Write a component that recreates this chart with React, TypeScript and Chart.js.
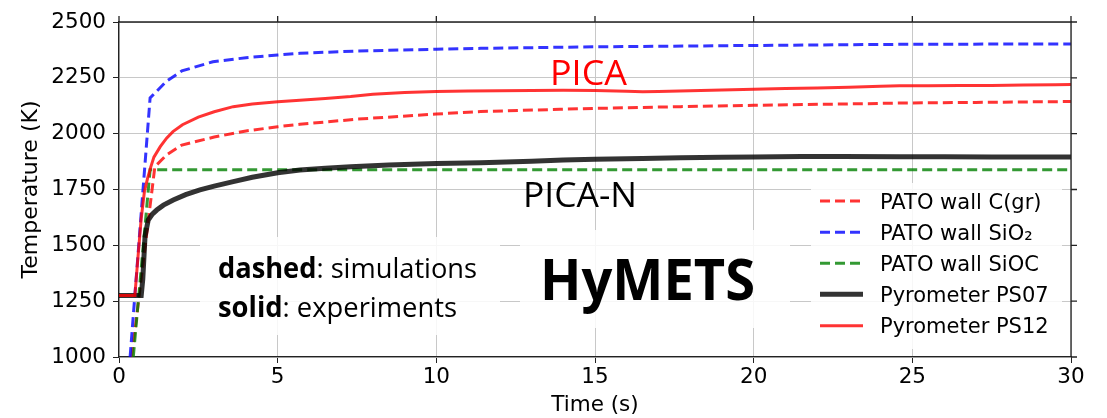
import React, { useEffect, useRef } from 'react';
import { Chart, registerables } from 'chart.js';

Chart.register(...registerables);

// ---------- data ----------
const xTicks = [0, 5, 10, 15, 20, 25, 30];
const yTicks = [1000, 1250, 1500, 1750, 2000, 2250, 2500];

const tSimC = [0.4, 1.13, 1.5, 1.98, 3.0, 4.0, 5.0, 5.7, 7.5, 10.0, 11.4, 13.9, 15.0, 17.7, 20.0, 23.4, 24.6, 27.0, 30.0];
const vSimC = [1000, 1852, 1905, 1949, 1985, 2012, 2031, 2042, 2065, 2088, 2099, 2109, 2113, 2121, 2127, 2134, 2137, 2140, 2144];

const tSimSiO2 = [0.35, 0.98, 1.5, 1.98, 2.96, 4.0, 5.0, 5.7, 7.5, 10.0, 11.4, 15.0, 20.0, 24.6, 30.0];
const vSimSiO2 = [1000, 2160, 2235, 2281, 2322, 2340, 2352, 2360, 2370, 2378, 2382, 2389, 2395, 2400, 2402];

const tSimSiOC = [0.45, 0.98, 5.0, 10.0, 15.0, 20.0, 25.0, 30.0];
const vSimSiOC = [1000, 1838, 1838, 1838, 1838, 1838, 1838, 1838];

const tPS07 = [0, 0.7, 0.75, 0.82, 0.92, 1.05, 1.19, 1.4, 1.71, 2.1, 2.55, 3.0, 3.6, 4.2, 5.0, 5.7, 6.5, 7.3, 8.5, 10.0, 11.4, 13.0, 14.0, 15.0, 16.5, 17.7, 19.0, 20.0, 21.5, 22.8, 24.6, 26.0, 27.5, 29.0, 30.0];
const vPS07 = [1275, 1275, 1350, 1539, 1613, 1640, 1658, 1680, 1703, 1727, 1748, 1765, 1785, 1805, 1825, 1837, 1845, 1852, 1860, 1866, 1870, 1877, 1882, 1885, 1889, 1892, 1894, 1896, 1898, 1898, 1897, 1897, 1896, 1895, 1895];

const tPS12 = [0, 0.5, 0.6, 0.7, 0.8, 0.9, 1.0, 1.1, 1.3, 1.5, 1.7, 2.0, 2.5, 3.0, 3.6, 4.2, 5.0, 5.7, 6.5, 7.3, 8.0, 9.0, 10.0, 11.0, 12.0, 13.0, 14.0, 15.0, 16.0, 16.5, 17.0, 18.0, 19.0, 20.0, 21.0, 22.0, 23.0, 23.5, 24.0, 24.6, 25.5, 26.5, 27.5, 28.5, 29.5, 30.0];
const vPS12 = [1275, 1275, 1450, 1620, 1740, 1800, 1850, 1895, 1942, 1980, 2009, 2040, 2074, 2098, 2121, 2133, 2143, 2150, 2158, 2166, 2176, 2184, 2189, 2191, 2192, 2193, 2194, 2193, 2190, 2188, 2189, 2192, 2196, 2199, 2202, 2205, 2208, 2210, 2212, 2214, 2215, 2216, 2216, 2218, 2219, 2220];

const seriesLabels = ['PATO wall C(gr)', 'PATO wall SiO₂', 'PATO wall SiOC', 'Pyrometer PS07', 'Pyrometer PS12'];
const seriesColors = ['rgba(255,0,0,0.8)', 'rgba(0,0,255,0.8)', 'rgba(0,128,0,0.8)', 'rgba(0,0,0,0.8)', 'rgba(255,0,0,0.8)'];
const seriesWidths = [3, 3, 3, 5, 3];
const seriesDashed = [true, true, true, false, false];

const toPts = (t: number[], v: number[]) => t.map((x, i) => ({ x, y: v[i] }));

const DASH = [10, 5];
const TEXT_FONT = '"Open Sans", "Noto Sans", sans-serif';

function drawFit(
  ctx: CanvasRenderingContext2D,
  segs: { text: string; bold: boolean }[],
  x: number,
  baseline: number,
  size: number,
  targetWidth: number,
  color: string
) {
  ctx.save();
  ctx.fillStyle = color;
  ctx.textBaseline = 'alphabetic';
  ctx.textAlign = 'left';
  let total = 0;
  const widths = segs.map((s) => {
    ctx.font = `${s.bold ? 'bold ' : ''}${size}px ${TEXT_FONT}`;
    const w = ctx.measureText(s.text).width;
    total += w;
    return w;
  });
  const sx = targetWidth / total;
  ctx.translate(x, baseline);
  ctx.scale(sx, 1);
  let cx = 0;
  segs.forEach((s, i) => {
    ctx.font = `${s.bold ? 'bold ' : ''}${size}px ${TEXT_FONT}`;
    ctx.fillText(s.text, cx, 0);
    cx += widths[i];
  });
  ctx.restore();
}

const overlay = {
  id: 'overlay',
  beforeDatasetsDraw(chart: any) {
    const ctx = chart.ctx as CanvasRenderingContext2D;
    ctx.save();
    ctx.fillStyle = 'rgba(255,255,255,0.85)';
    ctx.fillRect(200, 237, 300, 98);
    ctx.fillRect(520, 230, 270, 98);
    ctx.restore();
  },
  afterDatasetsDraw(chart: any) {
    const ctx = chart.ctx as CanvasRenderingContext2D;
    const { left, right, top, bottom } = chart.chartArea;
    const xs = chart.scales.x;
    const ys = chart.scales.y;
    ctx.save();
    // top/right spines and mirrored ticks
    ctx.strokeStyle = '#222';
    ctx.lineWidth = 1.3;
    ctx.beginPath();
    ctx.moveTo(left, top);
    ctx.lineTo(right, top);
    ctx.lineTo(right, bottom);
    ctx.stroke();
    ctx.beginPath();
    xTicks.forEach((v) => {
      const px = xs.getPixelForValue(v);
      ctx.moveTo(px, top);
      ctx.lineTo(px, top - 6);
    });
    yTicks.forEach((v) => {
      const py = ys.getPixelForValue(v);
      ctx.moveTo(right, py);
      ctx.lineTo(right + 6, py);
    });
    ctx.stroke();

    // annotations
    drawFit(ctx, [{ text: 'PICA', bold: false }], 550, 85, 35, 77, '#ff0000');
    drawFit(ctx, [{ text: 'PICA-N', bold: false }], 523, 207, 35, 114, '#000');
    drawFit(ctx, [{ text: 'dashed', bold: true }, { text: ': simulations', bold: false }], 218, 278, 28, 259, '#000');
    drawFit(ctx, [{ text: 'solid', bold: true }, { text: ': experiments', bold: false }], 218, 317, 28, 239, '#000');
    drawFit(ctx, [{ text: 'HyMETS', bold: true }], 540, 300, 58, 215, '#000');

    // legend
    ctx.fillStyle = 'rgba(255,255,255,0.85)';
    ctx.fillRect(811, 183, 251, 166);
    const rows = [201, 232.3, 263.3, 294.3, 325.7];
    ctx.font = '21px "DejaVu Sans"';
    ctx.textBaseline = 'alphabetic';
    seriesLabels.forEach((lab, i) => {
      const y = rows[i];
      ctx.beginPath();
      ctx.strokeStyle = seriesColors[i];
      ctx.lineWidth = seriesWidths[i];
      ctx.setLineDash(seriesDashed[i] ? DASH : []);
      ctx.moveTo(820, y);
      ctx.lineTo(863, y);
      ctx.stroke();
      ctx.setLineDash([]);
      ctx.fillStyle = '#000';
      ctx.fillText(lab, 880, y + 7.5);
    });
    ctx.restore();
  },
};

export default function App() {
  const ref = useRef<HTMLCanvasElement | null>(null);
  useEffect(() => {
    if (!ref.current) return;
    const mk = (t: number[], v: number[], i: number, order: number) => ({
      label: seriesLabels[i],
      data: toPts(t, v),
      borderColor: seriesColors[i],
      backgroundColor: seriesColors[i],
      borderWidth: seriesWidths[i],
      borderDash: seriesDashed[i] ? DASH : [],
      pointRadius: 0,
      tension: 0,
      fill: false,
      order,
    });
    const chart = new Chart(ref.current, {
      type: 'line',
      data: {
        datasets: [
          mk(tSimC, vSimC, 0, 4),
          mk(tSimSiO2, vSimSiO2, 1, 3),
          mk(tSimSiOC, vSimSiOC, 2, 2),
          mk(tPS07, vPS07, 3, 1),
          mk(tPS12, vPS12, 4, 0),
        ] as any,
      },
      options: {
        animation: false,
        responsive: false,
        maintainAspectRatio: false,
        devicePixelRatio: 1,
        layout: { padding: { top: 22, right: 36, left: 0, bottom: 0 } },
        plugins: { legend: { display: false }, tooltip: { enabled: false } },
        scales: {
          x: {
            type: 'linear',
            min: 0,
            max: 30,
            afterFit: (s: any) => { s.height = 61; },
            afterBuildTicks: (s: any) => { s.ticks = xTicks.map((v) => ({ value: v })); },
            ticks: {
              callback: (v: any) => String(v),
              color: '#000',
              font: { family: '"DejaVu Sans"', size: 21.5 },
              padding: 2,
              maxRotation: 0,
            },
            grid: { color: '#c8c8c8', lineWidth: 1, tickColor: '#222', tickLength: 6 },
            border: { color: '#222', width: 1.3 },
            title: {
              display: true,
              text: 'Time (s)',
              color: '#000',
              font: { family: '"DejaVu Sans"', size: 21.5 },
              padding: { top: 0, bottom: 0 },
            },
          },
          y: {
            type: 'linear',
            min: 1000,
            max: 2500,
            afterFit: (s: any) => { s.width = 119; },
            afterBuildTicks: (s: any) => { s.ticks = yTicks.map((v) => ({ value: v })); },
            ticks: {
              callback: (v: any) => String(v),
              color: '#000',
              font: { family: '"DejaVu Sans"', size: 21.5 },
              padding: 7,
            },
            grid: { color: '#c8c8c8', lineWidth: 1, tickColor: '#222', tickLength: 6 },
            border: { color: '#222', width: 1.3 },
            title: {
              display: true,
              text: 'Temperature (K)',
              color: '#000',
              font: { family: '"DejaVu Sans"', size: 22 },
              padding: { top: 18, bottom: 0 },
            },
          },
        },
      },
      plugins: [overlay],
    } as any);
    return () => chart.destroy();
  }, []);
  return (
    <div style={{ position: 'absolute', left: 0, top: 0, width: 1107, height: 418, background: '#fff' }}>
      <canvas ref={ref} width={1107} height={418} style={{ width: 1107, height: 418, display: 'block' }} />
    </div>
  );
}
